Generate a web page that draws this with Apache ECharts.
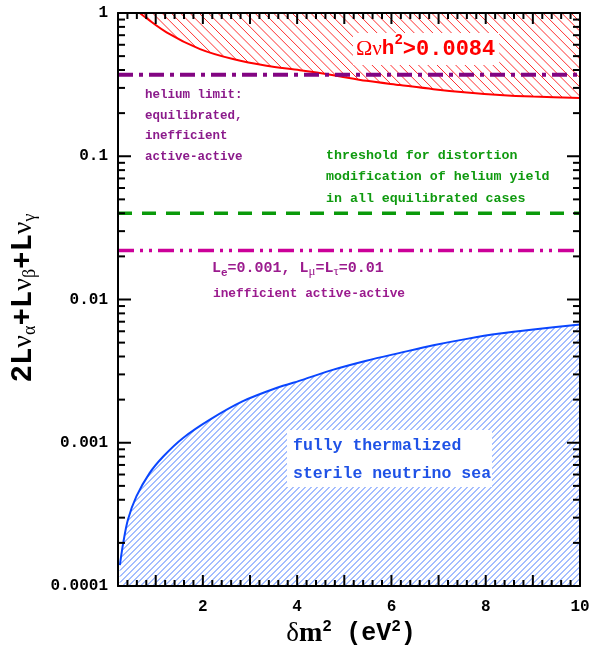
<!DOCTYPE html>
<html>
<head>
<meta charset="utf-8">
<script src="https://cdn.jsdelivr.net/npm/echarts@6/dist/echarts.min.js"></script>
<style>
html, body { margin: 0; padding: 0; background: #fff; }
#chart { width: 598px; height: 649px; }
</style>
</head>
<body>
<div id="chart"></div>
<script>
// δm² (eV²) along the upper boundary of the region excluded by Ωνh² > 0.0084
const omegaX = [0.66, 1.23, 1.94, 2.64, 3.35, 4.06, 4.77, 5.47, 6.18, 6.89, 7.6, 8.3, 9.01, 10];
const omegaY = [1.0, 0.733, 0.56, 0.477, 0.428, 0.399, 0.368, 0.336, 0.314, 0.294, 0.279, 0.268, 0.261, 0.255];

// lepton asymmetry below which a fully thermalized sterile neutrino sea forms
const seaX = [0.24, 0.31, 0.41, 0.59, 0.87, 1.16, 1.58, 2.15, 2.85, 3.56, 4.13, 4.77, 5.47, 6.18, 6.89, 7.6, 8.3, 9.01, 10];
const seaY = [1.40e-4, 1.99e-4, 2.90e-4, 4.22e-4, 6.14e-4, 8.02e-4, 1.08e-3, 1.45e-3, 1.95e-3, 2.41e-3, 2.76e-3,
              3.24e-3, 3.74e-3, 4.24e-3, 4.79e-3, 5.31e-3, 5.78e-3, 6.17e-3, 6.68e-3];

// horizontal limits
const heliumLimit = 0.37;          // helium limit: equilibrated, inefficient active-active
const distortionThreshold = 0.04;  // threshold for distortion of the helium yield
const inefficientLimit = 0.022;    // Le=0.001, Lμ=Lτ=0.01 inefficient active-active

// axis range and tick labels
const xRange = [0.2, 10];
const yRange = [0.0001, 1];
const xTickLabels = [2, 4, 6, 8, 10];
const yTickLabels = ['0.0001', '0.001', '0.01', '0.1', '1'];

// frame tick marks: [x, y, length, kind]  kind 0 = along x, 1 = along y
const frameTicks = [];
for (let i = 2; i < 50; i++) {
  const v = +(i * 0.2).toFixed(1);
  frameTicks.push([v, yRange[0], (i % 5 === 0) ? 11 : 6, 0]);
}
for (let e = -4; e < 0; e++) {
  for (let m = 1; m <= 9; m++) {
    if (m === 1 && e === -4) continue;
    frameTicks.push([xRange[0], m * Math.pow(10, e), m === 1 ? 13 : 7, 1]);
  }
}

// Diagonal hatch lines y = slope*x + c clipped to a pixel polygon (even-odd along each line)
function hatchLines(poly, spacing, phase, slope, style) {
  let cMin = Infinity, cMax = -Infinity;
  poly.forEach(p => { const c = p[1] - slope * p[0]; cMin = Math.min(cMin, c); cMax = Math.max(cMax, c); });
  const out = [];
  for (let c = Math.floor(cMin / spacing) * spacing + phase; c <= cMax; c += spacing) {
    const xs = [];
    for (let i = 0; i < poly.length; i++) {
      const a = poly[i], b = poly[(i + 1) % poly.length];
      const fa = a[1] - slope * a[0] - c, fb = b[1] - slope * b[0] - c;
      if ((fa > 0) !== (fb > 0)) {
        const t = fa / (fa - fb);
        xs.push(a[0] + t * (b[0] - a[0]));
      }
    }
    xs.sort((p, q) => p - q);
    for (let k = 0; k + 1 < xs.length; k += 2) {
      out.push({
        type: 'line',
        shape: { x1: xs[k], y1: slope * xs[k] + c, x2: xs[k + 1], y2: slope * xs[k + 1] + c },
        style: Object.assign({}, style)
      });
    }
  }
  return out;
}

const MONO = '"Liberation Mono", "Courier New", monospace';
const SERIF = '"Liberation Serif", "Times New Roman", serif';

const chart = echarts.init(document.getElementById('chart'), null, { renderer: 'canvas' });

const pair = (xs, ys) => xs.map((x, i) => [x, ys[i]]);
const flat = v => [[xRange[0], v], [xRange[1], v]];

chart.setOption({
  animation: false,
  backgroundColor: '#fff',
  grid: { left: 118, right: 18, top: 13, bottom: 63, containLabel: false },
  xAxis: [
    {
      type: 'value', min: xRange[0], max: xRange[1], position: 'bottom', z: 5,
      axisLine: { show: true, lineStyle: { color: '#000', width: 2 } },
      axisTick: { show: false },
      splitLine: { show: false },
      axisLabel: {
        customValues: xTickLabels,
        formatter: v => String(v),
        margin: 13, color: '#000', fontFamily: MONO, fontWeight: 'bold', fontSize: 16
      }
    },
    {
      type: 'value', min: xRange[0], max: xRange[1], position: 'top', z: 5,
      axisLine: { show: true, onZero: false, lineStyle: { color: '#000', width: 2 } },
      axisTick: { show: false }, axisLabel: { show: false }, splitLine: { show: false }
    }
  ],
  yAxis: [
    {
      type: 'log', logBase: 10, min: yRange[0], max: yRange[1], splitNumber: 4, position: 'left', z: 5,
      axisLine: { show: true, lineStyle: { color: '#000', width: 2 } },
      axisTick: { show: false },
      splitLine: { show: false },
      axisLabel: {
        formatter: v => yTickLabels[Math.round(Math.log10(v)) + 4],
        margin: 10, color: '#000', fontFamily: MONO, fontWeight: 'bold', fontSize: 16
      }
    },
    {
      type: 'log', logBase: 10, min: yRange[0], max: yRange[1], position: 'right', z: 5,
      axisLine: { show: true, onZero: false, lineStyle: { color: '#000', width: 2 } },
      axisTick: { show: false }, axisLabel: { show: false }, splitLine: { show: false }
    }
  ],
  series: [
    {
      name: 'omegaHatch', type: 'custom', silent: true, z: 1,
      data: [[xRange[0], yRange[1]]], encode: { x: 0, y: 1 },
      renderItem: function (params, api) {
        const poly = omegaX.map((x, i) => api.coord([x, omegaY[i]]));
        poly.push(api.coord([omegaX[omegaX.length - 1], yRange[1]]));
        return { type: 'group', children: hatchLines(poly, 9.3, 0, 1, { stroke: '#ff3030', lineWidth: 1 }) };
      }
    },
    {
      name: 'seaHatch', type: 'custom', silent: true, z: 1,
      data: [[xRange[0], yRange[0]]], encode: { x: 0, y: 1 },
      renderItem: function (params, api) {
        const poly = seaX.map((x, i) => api.coord([x, seaY[i]]));
        poly.push(api.coord([seaX[seaX.length - 1], yRange[0]]));
        poly.push(api.coord([seaX[0], yRange[0]]));
        return { type: 'group', children: hatchLines(poly, 6, 0.5, -1, { stroke: '#4a7cff', lineWidth: 1 }) };
      }
    },
    {
      name: 'omega', type: 'line', data: pair(omegaX, omegaY), smooth: 0.3,
      symbol: 'none', z: 2,
      lineStyle: { color: '#ff0000', width: 2 }
    },
    {
      name: 'sea', type: 'line', data: pair(seaX, seaY), smooth: 0.3,
      symbol: 'none', z: 2,
      lineStyle: { color: '#0a46ff', width: 2 }
    },
    {
      name: 'helium', type: 'line', data: flat(heliumLimit), symbol: 'none', z: 3,
      lineStyle: { color: '#820582', width: 4, type: [15, 6, 4, 6], cap: 'butt' }
    },
    {
      name: 'threshold', type: 'line', data: flat(distortionThreshold), symbol: 'none', z: 3,
      lineStyle: { color: '#0a9a0a', width: 3.5, type: [14, 10], cap: 'butt' }
    },
    {
      name: 'inefficient', type: 'line', data: flat(inefficientLimit), symbol: 'none', z: 3,
      lineStyle: { color: '#cc0099', width: 3.5, type: [16, 6, 3, 6, 3, 6], cap: 'butt' }
    },
    {
      name: 'ticks', type: 'custom', silent: true, z: 6,
      data: frameTicks,
      encode: { x: 0, y: 1 },
      renderItem: function (params, api) {
        const len = api.value(2);
        const kind = api.value(3);
        const st = { stroke: '#000', lineWidth: 2 };
        if (kind === 0) {
          const x = api.value(0);
          const b = api.coord([x, yRange[0]]);
          const t = api.coord([x, yRange[1]]);
          return { type: 'group', children: [
            { type: 'line', shape: { x1: b[0], y1: b[1], x2: b[0], y2: b[1] - len }, style: st },
            { type: 'line', shape: { x1: t[0], y1: t[1], x2: t[0], y2: t[1] + len }, style: st }
          ] };
        }
        const y = api.value(1);
        const l = api.coord([xRange[0], y]);
        const r = api.coord([xRange[1], y]);
        return { type: 'group', children: [
          { type: 'line', shape: { x1: l[0], y1: l[1], x2: l[0] + len, y2: l[1] }, style: st },
          { type: 'line', shape: { x1: r[0], y1: r[1], x2: r[0] - len, y2: r[1] }, style: st }
        ] };
      }
    }
  ],
  graphic: [
    {
      type: 'text', x: 145, y: 84.5, z: 100,
      style: {
        text: 'helium limit:\nequilibrated,\ninefficient\nactive-active',
        fill: '#8b1a8b', font: 'bold 12.5px ' + MONO, lineHeight: 20.7,
        align: 'left', verticalAlign: 'top'
      }
    },
    {
      type: 'text', x: 326, y: 145, z: 100,
      style: {
        text: 'threshold for distortion\nmodification of helium yield\nin all equilibrated cases',
        fill: '#0f9a0f', font: 'bold 13.3px ' + MONO, lineHeight: 21.3,
        align: 'left', verticalAlign: 'top'
      }
    },
    {
      type: 'text', x: 353, y: 33, z: 100,
      style: {
        text: '{g|Ω}{n|ν}{h|h}{sup|2}{m|>0.0084}',
        backgroundColor: '#fff', padding: [0, 4, 0, 3],
        align: 'left', verticalAlign: 'top',
        rich: {
          g: { font: '22px ' + SERIF, fill: '#ff0000', lineHeight: 32 },
          n: { font: '21px ' + SERIF, fill: '#ff0000', lineHeight: 32 },
          h: { font: 'bold 21px ' + MONO, fill: '#ff0000', lineHeight: 32 },
          sup: { font: 'bold 14px ' + MONO, fill: '#ff0000', lineHeight: 22, verticalAlign: 'top' },
          m: { font: 'bold 22px ' + MONO, fill: '#ff0000', lineHeight: 32 }
        }
      }
    },
    {
      type: 'text', x: 212, y: 258.3, z: 100,
      style: {
        text: '{m|L}{sub|e}{m|=0.001, L}{gs|μ}{m|=L}{gs|τ}{m|=0.01}',
        align: 'left', verticalAlign: 'top',
        rich: {
          m: { font: 'bold 15px ' + MONO, fill: '#9b1b8e', lineHeight: 20 },
          sub: { font: 'bold 11px ' + MONO, fill: '#9b1b8e', lineHeight: 8, verticalAlign: 'bottom' },
          gs: { font: '13px ' + SERIF, fill: '#9b1b8e', lineHeight: 8, verticalAlign: 'bottom' }
        }
      }
    },
    {
      type: 'text', x: 213, y: 293.3, z: 100,
      style: {
        text: 'inefficient active-active',
        fill: '#9b1b8e', font: 'bold 12.8px ' + MONO,
        align: 'left', verticalAlign: 'middle'
      }
    },
    {
      type: 'text', x: 287, y: 430, z: 100,
      style: {
        text: 'fully thermalized\nsterile neutrino sea',
        fill: '#1f52e6', font: 'bold 16.5px ' + MONO, lineHeight: 27.3,
        backgroundColor: '#fff', padding: [2.5, 1, 0, 6],
        align: 'left', verticalAlign: 'top'
      }
    },
    {
      type: 'text', x: 24, y: 298, rotation: Math.PI / 2, z: 100,
      style: {
        text: '{m|2L}{g|ν}{s|α}{m|+L}{g|ν}{s|β}{m|+L}{g|ν}{s|γ}',
        align: 'center', verticalAlign: 'middle',
        rich: {
          m: { font: 'bold 29px ' + MONO, fill: '#000', lineHeight: 30 },
          g: { font: '28px ' + SERIF, fill: '#000', lineHeight: 30 },
          s: { font: '18px ' + SERIF, fill: '#000', lineHeight: 12, verticalAlign: 'bottom' }
        }
      }
    },
    {
      type: 'text', x: 351, y: 634, z: 100,
      style: {
        text: '{g|δ}{mm|m}{sup|2}{sp|  }{m|(eV}{sup|2}{m|)}',
        align: 'center', verticalAlign: 'middle',
        rich: {
          g: { font: '27px ' + SERIF, fill: '#000', lineHeight: 30 },
          mm: { font: 'bold 28px ' + SERIF, fill: '#000', lineHeight: 30 },
          m: { font: 'bold 25px ' + MONO, fill: '#000', lineHeight: 30 },
          sup: { font: 'bold 16px ' + MONO, fill: '#000', lineHeight: 14, verticalAlign: 'top' },
          sp: { font: 'bold 12px ' + MONO, fill: '#000', lineHeight: 30 }
        }
      }
    }
  ]
});
</script>
</body>
</html>
